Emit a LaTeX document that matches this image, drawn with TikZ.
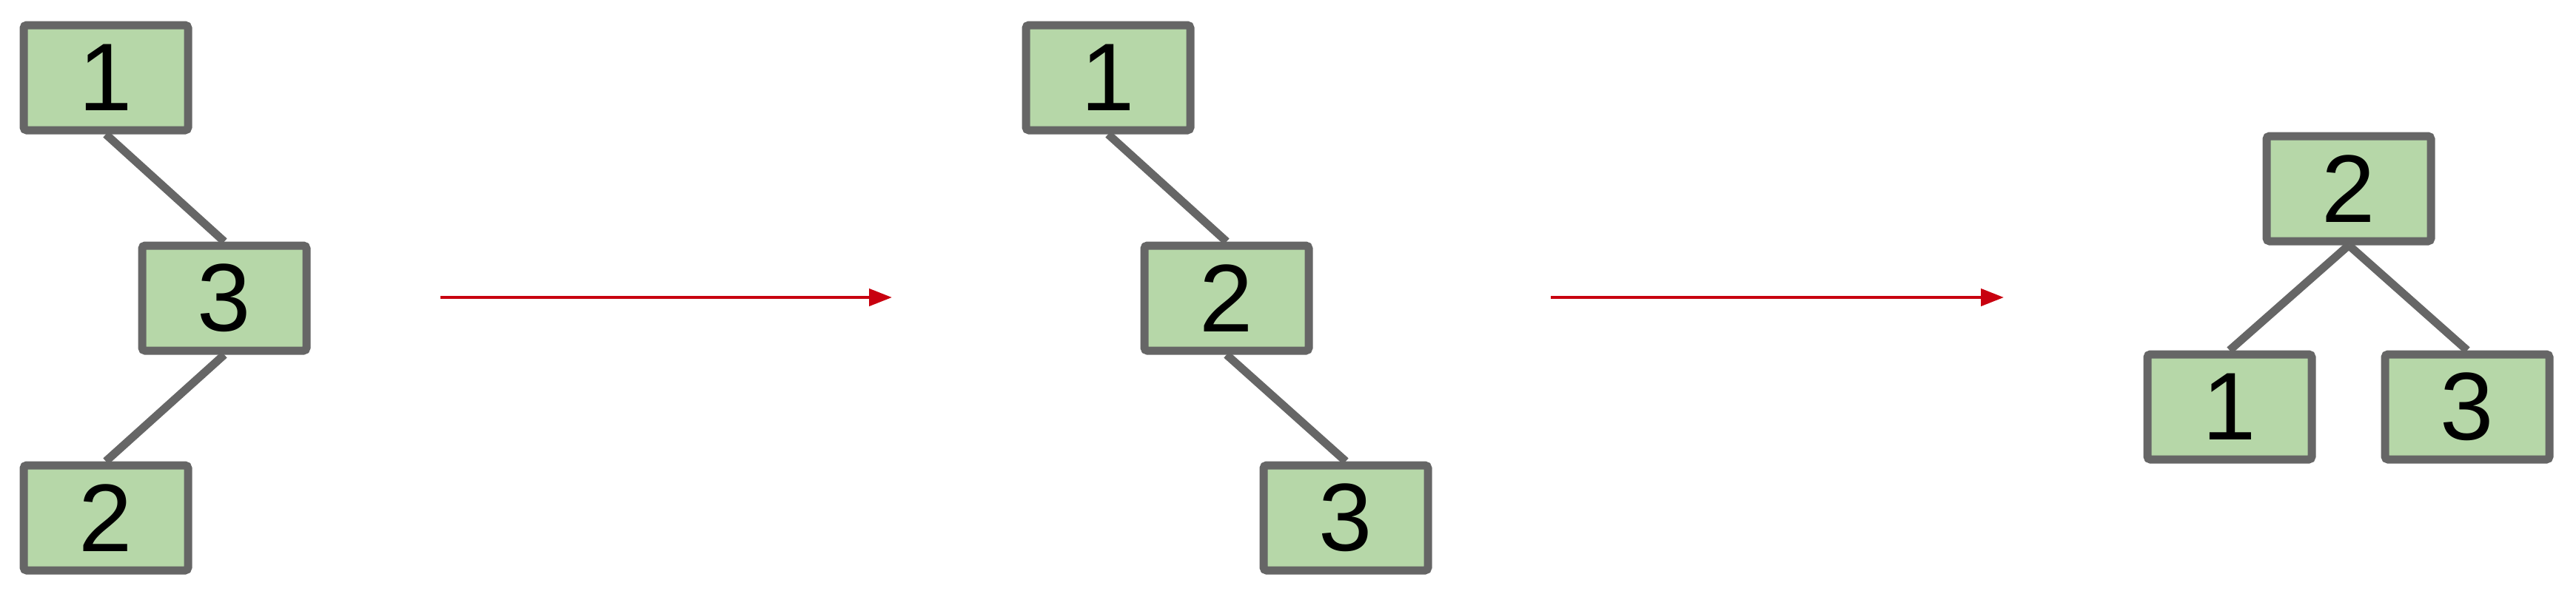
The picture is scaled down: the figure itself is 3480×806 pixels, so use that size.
\documentclass[tikz,border=0pt]{standalone}
\usepackage{fontspec}
\setmainfont{Liberation Sans}
\usetikzlibrary{arrows.meta}
\definecolor{boxfill}{HTML}{B6D7A8}
\definecolor{boxline}{HTML}{666666}
\definecolor{arrred}{HTML}{C8000F}
\begin{document}
\begin{tikzpicture}[x=0.25pt,y=-0.25pt,
  treebox/.style={draw=boxline, fill=boxfill, line width=2.75pt, rounded corners=1pt,
    minimum width=55.5pt, minimum height=35.5pt, inner sep=0pt,
    font=\fontsize{32.5}{32.5}\selectfont},
  edge/.style={draw=boxline, line width=2.75pt},
  bigarrow/.style={draw=arrred, line width=1.1pt, -{Triangle[length=7.75pt,width=5.75pt]}}]
\useasboundingbox (0,0) rectangle (3480,806);
% tree 1
\node[treebox] (t1a) at (143,105) {1};
\node[treebox] (t1b) at (303,403) {3};
\node[treebox] (t1c) at (143,700) {2};
% tree 2
\node[treebox] (t2a) at (1497,105) {1};
\node[treebox] (t2b) at (1657,403) {2};
\node[treebox] (t2c) at (1818,700) {3};
% tree 3
\node[treebox] (t3a) at (3173,255) {2};
\node[treebox] (t3b) at (3012,550) {1};
\node[treebox] (t3c) at (3333,550) {3};
\draw[edge] (t1a.south) -- (t1b.north);
\draw[edge] (t1b.south) -- (t1c.north);
\draw[edge] (t2a.south) -- (t2b.north);
\draw[edge] (t2b.south) -- (t2c.north);
\draw[edge] (t3a.south) -- (t3b.north);
\draw[edge] (t3a.south) -- (t3c.north);
% arrows
\coordinate (a1s) at (595,402);
\coordinate (a1e) at (1205,402);
\coordinate (a2s) at (2095,402);
\coordinate (a2e) at (2707,402);
\draw[bigarrow] (a1s) -- (a1e);
\draw[bigarrow] (a2s) -- (a2e);
\end{tikzpicture}
\end{document}
